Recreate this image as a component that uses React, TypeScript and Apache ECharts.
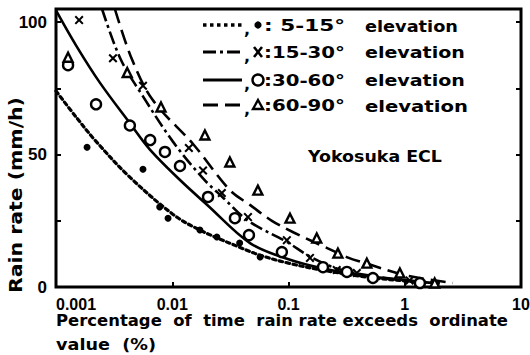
import React, { useEffect, useRef } from 'react';
import * as echarts from 'echarts';

// ---- Data ----
const xTickLabels = ['0.001', '0.01', '0.1', '1', '10'];
const yLabeledTicks = [0, 50, 100];

// fitted curves
const curve5to15X = [0.001, 0.0015, 0.00216, 0.0042, 0.0101, 0.0173, 0.038, 0.057, 0.1, 0.2, 0.5, 1, 1.5];
const curve5to15Y = [74, 64, 55.5, 42, 27.5, 21.5, 15, 12, 9, 6.3, 3.6, 2.3, 1.6];

const curve15to30X = [0.00249, 0.0036, 0.0056, 0.0101, 0.0184, 0.027, 0.045, 0.097, 0.153, 0.26, 0.5, 1, 2];
const curve15to30Y = [105, 86, 72, 55, 41, 34, 25, 17, 11.5, 7, 4.3, 2.6, 1.5];

const curve30to60X = [0.001, 0.0015, 0.0024, 0.0043, 0.0064, 0.0116, 0.02, 0.047, 0.1, 0.2, 0.5, 1, 2];
const curve30to60Y = [104.5, 91, 77, 62, 52, 40.5, 31, 16.5, 10.5, 7, 4, 2.5, 1.3];

const curve60to90X = [0.00321, 0.0045, 0.0068, 0.0151, 0.0313, 0.0466, 0.072, 0.112, 0.22, 0.33, 0.43, 1, 2.6];
const curve60to90Y = [105, 86, 70.6, 54, 36.6, 31, 25, 20.5, 14.5, 11, 9.4, 4.5, 1.5];

// measured points
const dots5to15X = [0.00185, 0.0056, 0.0078, 0.0092, 0.0173, 0.0242, 0.038, 0.057];
const dots5to15Y = [52.8, 44.5, 30.2, 26, 21.5, 18.9, 16.6, 11.3];

const cross15to30X = [0.00158, 0.00309, 0.0056, 0.0139, 0.0184, 0.0267, 0.0448, 0.0968, 0.153, 0.26, 0.387, 1.1];
const cross15to30Y = [100.8, 86.4, 76, 52.5, 44, 35.5, 26.4, 17.7, 11, 6.4, 5.3, 2.5];

const circ30to60X = [0.00127, 0.00221, 0.00432, 0.00646, 0.00865, 0.01165, 0.0203, 0.0346, 0.0457, 0.0877, 0.198, 0.318, 0.532, 1.35];
const circ30to60Y = [83.8, 69, 61, 55.5, 51, 45.7, 34, 26, 19.6, 13.2, 7.5, 5.7, 3.4, 1.5];

const tri60to90X = [0.00127, 0.0041, 0.008, 0.0191, 0.0313, 0.0545, 0.103, 0.175, 0.266, 0.472, 0.908, 1.81];
const tri60to90Y = [86.8, 81, 68, 57.4, 47.2, 36.6, 26, 18.5, 12.8, 9, 5.3, 1.5];

const legendRanges = [': 5-15°', ':15-30°', ':30-60°', ':60-90°'];
const legendWord = 'elevation';
const stationLabel = 'Yokosuka ECL';
const xAxisName1 = 'Percentage  of  time  rain rate exceeds  ordinate';
const xAxisName2 = 'value  (%)';
const yAxisName = 'Rain rate (mm/h)';

// ---- styling ----
const DASHES: any[] = [[3.5, 3.5], [13, 4, 3, 4], 'solid', [15, 7]];
const LINE_W = [3.2, 2.6, 2.6, 2.6];
const CROSS = 'path://M0,1.6L1.6,0L5,3.4L8.4,0L10,1.6L6.6,5L10,8.4L8.4,10L5,6.6L1.6,10L0,8.4L3.4,5Z';
const TXT_FONT = 'DejaVu Sans';

const zip = (xs: number[], ys: number[]) => xs.map((x, i) => [x, ys[i]]);

function measure(text: string, size: number, family: string): number {
  const c = document.createElement('canvas').getContext('2d');
  if (!c) return text.length * size * 0.6;
  c.font = `bold ${size}px "${family}"`;
  return c.measureText(text).width || text.length * size * 0.6;
}

function fitText(text: string, x: number, y: number, size: number, width: number, extra: any = {}) {
  const s = width / measure(text, size, TXT_FONT);
  return {
    type: 'text',
    x,
    y,
    scaleX: s,
    z: 20,
    ...extra,
    style: {
      text,
      fontSize: size,
      fontWeight: 'bold',
      fontFamily: TXT_FONT,
      fill: '#000',
      align: extra.align || 'left',
      verticalAlign: 'middle',
    },
  };
}

function legendMarker(i: number, cx: number, cy: number): any {
  if (i === 0) return { type: 'circle', z: 20, shape: { cx, cy, r: 3.6 }, style: { fill: '#000' } };
  if (i === 1)
    return {
      type: 'group',
      z: 20,
      children: [
        { type: 'line', shape: { x1: cx - 4, y1: cy - 5, x2: cx + 4, y2: cy + 5 }, style: { stroke: '#000', lineWidth: 2.6 } },
        { type: 'line', shape: { x1: cx + 4, y1: cy - 5, x2: cx - 4, y2: cy + 5 }, style: { stroke: '#000', lineWidth: 2.6 } },
      ],
    };
  if (i === 2) return { type: 'circle', z: 20, shape: { cx, cy, r: 5.5 }, style: { fill: '#fff', stroke: '#000', lineWidth: 2.4 } };
  return {
    type: 'polygon',
    z: 20,
    shape: { points: [[cx, cy - 5], [cx + 5, cy + 4], [cx - 5, cy + 4]] },
    style: { fill: '#fff', stroke: '#000', lineWidth: 2.4 },
  };
}

export default function App() {
  const ref = useRef<HTMLDivElement>(null);

  useEffect(() => {
    if (!ref.current) return;
    const chart = echarts.init(ref.current, null, { renderer: 'svg' });

    const rowY = [25, 52, 80, 105];
    const wordW = [93, 100, 100, 103];
    const graphic: any[] = [];
    legendRanges.forEach((label, i) => {
      const y = rowY[i];
      graphic.push({
        type: 'line',
        z: 20,
        shape: { x1: 203, y1: y, x2: 242, y2: y },
        style: { stroke: '#000', lineWidth: LINE_W[i] + 0.4, lineDash: DASHES[i] === 'solid' ? null : DASHES[i] },
      });
      graphic.push({
        type: 'text',
        x: 244,
        y: y + 4,
        z: 20,
        style: { text: ',', fontSize: 16, fontWeight: 'bold', fontFamily: TXT_FONT, fill: '#000', align: 'left', verticalAlign: 'middle' },
      });
      graphic.push(legendMarker(i, 258, y));
      graphic.push(fitText(label, 264, y, 16, 81));
      graphic.push(fitText(legendWord, 365, y + 1, 16, wordW[i]));
    });
    graphic.push(fitText(stationLabel, 308, 157, 15, 134));
    graphic.push(fitText(xAxisName1, 56, 321, 16, 452));
    graphic.push(fitText(xAxisName2, 56, 344, 16, 100));
    graphic.push(fitText(yAxisName, 16, 195, 17, 196, { rotation: Math.PI / 2, align: 'center' }));

    const curves = [
      zip(curve5to15X, curve5to15Y),
      zip(curve15to30X, curve15to30Y),
      zip(curve30to60X, curve30to60Y),
      zip(curve60to90X, curve60to90Y),
    ];

    const lineSeries = curves.map((data, i) => ({
      type: 'line',
      data,
      smooth: 0.35,
      symbol: 'none',
      showSymbol: false,
      clip: true,
      z: 3,
      lineStyle: { color: '#000', width: LINE_W[i], type: DASHES[i], cap: i === 0 ? 'round' : 'butt', opacity: 1 },
    }));

    const scatterSeries = [
      {
        type: 'scatter',
        data: zip(dots5to15X, dots5to15Y),
        symbol: 'circle',
        symbolSize: 7,
        itemStyle: { color: '#000', opacity: 1 },
        z: 5,
      },
      {
        type: 'scatter',
        data: zip(cross15to30X, cross15to30Y),
        symbol: CROSS,
        symbolSize: 9,
        itemStyle: { color: '#000', opacity: 1 },
        z: 5,
      },
      {
        type: 'scatter',
        data: zip(circ30to60X, circ30to60Y),
        symbol: 'circle',
        symbolSize: 10,
        itemStyle: { color: '#fff', borderColor: '#000', borderWidth: 2.4, opacity: 1 },
        z: 6,
      },
      {
        type: 'scatter',
        data: zip(tri60to90X, tri60to90Y),
        symbol: 'triangle',
        symbolSize: 9,
        itemStyle: { color: '#fff', borderColor: '#000', borderWidth: 2.4, opacity: 1 },
        z: 6,
      },
    ];

    const labelStyle = { color: '#000', fontSize: 16, fontWeight: 'bold', fontFamily: 'Liberation Sans' };

    chart.setOption({
      animation: false,
      backgroundColor: '#fff',
      grid: {
        left: 56,
        right: 9,
        top: 9,
        bottom: 68,
        containLabel: false,
        outerBoundsMode: 'none',
        show: true,
        borderColor: '#000',
        borderWidth: 3,
      },
      xAxis: {
        type: 'log',
        logBase: 10,
        min: 0.001,
        max: 10,
        axisLine: { show: false },
        axisTick: { show: true, inside: true, length: 5, lineStyle: { color: '#000', width: 2 } },
        minorTick: { show: false },
        splitLine: { show: false },
        axisLabel: {
          ...labelStyle,
          margin: 9,
          alignMinLabel: 'left',
          formatter: (v: number) => xTickLabels[Math.round(Math.log10(v)) + 3] ?? '',
        },
      },
      yAxis: [
        {
          type: 'value',
          min: 0,
          max: 105,
          interval: 25,
          axisLine: { show: false },
          axisTick: { show: true, inside: true, length: 5, lineStyle: { color: '#000', width: 2 } },
          splitLine: { show: false },
          axisLabel: {
            ...labelStyle,
            fontSize: 17,
            margin: 9,
            formatter: (v: number) => (yLabeledTicks.includes(v) ? String(v) : ''),
          },
        },
        {
          type: 'value',
          position: 'right',
          min: 0,
          max: 105,
          interval: 25,
          axisLine: { show: false },
          axisTick: { show: true, inside: true, length: 5, lineStyle: { color: '#000', width: 2 } },
          splitLine: { show: false },
          axisLabel: { show: false },
        },
      ],
      series: [...lineSeries, ...scatterSeries],
      graphic,
    });

    return () => chart.dispose();
  }, []);

  return <div ref={ref} style={{ width: 530, height: 355, position: 'absolute', left: 0, top: 0, background: '#fff' }} />;
}
